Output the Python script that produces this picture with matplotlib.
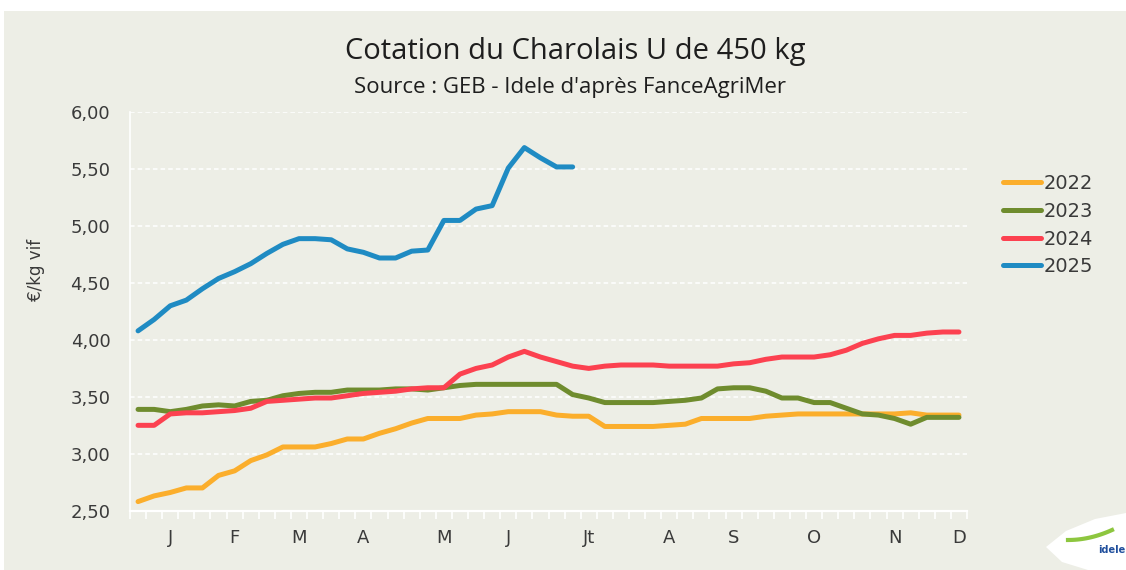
import numpy as np
from matplotlib import pyplot as plt
from matplotlib.patches import Rectangle, Polygon
from matplotlib.ticker import FuncFormatter

# weekly quotations, EUR/kg live weight
weeks = list(range(52))
y2022 = [2.58, 2.63, 2.66, 2.70, 2.70, 2.81, 2.85, 2.94, 2.99, 3.06,
         3.06, 3.06, 3.09, 3.13, 3.13, 3.18, 3.22, 3.27, 3.31, 3.31,
         3.31, 3.34, 3.35, 3.37, 3.37, 3.37, 3.34, 3.33, 3.33, 3.24,
         3.24, 3.24, 3.24, 3.25, 3.26, 3.31, 3.31, 3.31, 3.31, 3.33,
         3.34, 3.35, 3.35, 3.35, 3.35, 3.35, 3.35, 3.35, 3.36, 3.34,
         3.34, 3.34]
y2023 = [3.39, 3.39, 3.37, 3.39, 3.42, 3.43, 3.42, 3.46, 3.47, 3.51,
         3.53, 3.54, 3.54, 3.56, 3.56, 3.56, 3.57, 3.57, 3.56, 3.58,
         3.60, 3.61, 3.61, 3.61, 3.61, 3.61, 3.61, 3.52, 3.49, 3.45,
         3.45, 3.45, 3.45, 3.46, 3.47, 3.49, 3.57, 3.58, 3.58, 3.55,
         3.49, 3.49, 3.45, 3.45, 3.40, 3.35, 3.34, 3.31, 3.26, 3.32,
         3.32, 3.32]
y2024 = [3.25, 3.25, 3.35, 3.36, 3.36, 3.37, 3.38, 3.40, 3.46, 3.47,
         3.48, 3.49, 3.49, 3.51, 3.53, 3.54, 3.55, 3.57, 3.58, 3.58,
         3.70, 3.75, 3.78, 3.85, 3.90, 3.85, 3.81, 3.77, 3.75, 3.77,
         3.78, 3.78, 3.78, 3.77, 3.77, 3.77, 3.77, 3.79, 3.80, 3.83,
         3.85, 3.85, 3.85, 3.87, 3.91, 3.97, 4.01, 4.04, 4.04, 4.06,
         4.07, 4.07]
y2025 = [4.08, 4.18, 4.30, 4.35, 4.45, 4.54, 4.60, 4.67, 4.76, 4.84,
         4.89, 4.89, 4.88, 4.80, 4.77, 4.72, 4.72, 4.78, 4.79, 5.05,
         5.05, 5.15, 5.18, 5.51, 5.69, 5.60, 5.52, 5.52]

month_pos = [2, 6, 10, 14, 19, 23, 28, 33, 37, 42, 47, 51]
month_labels = ['J', 'F', 'M', 'A', 'M', 'J', 'Jt', 'A', 'S', 'O', 'N', 'D']

series = [('2022', y2022, '#FBAE2C'),
          ('2023', y2023, '#6F8C2E'),
          ('2024', y2024, '#FC4150'),
          ('2025', y2025, '#1F8BC3')]

bg = '#EDEEE6'
txt = '#3A3A3A'
W, H = 1126, 570

fig = plt.figure(figsize=(W / 100, H / 100), dpi=100)
fig.patch.set_facecolor('white')
fig.add_artist(Rectangle((4 / W, 0), 1, 1 - 11 / H, transform=fig.transFigure,
                         facecolor=bg, edgecolor='none', zorder=-10))

ax = fig.add_axes([130 / W, 1 - 510.7 / H, 837 / W, 398.4 / H])
ax.set_facecolor(bg)

for name, vals, col in series:
    ax.plot(weeks[:len(vals)], vals, color=col, lw=3.6, label=name,
            solid_capstyle='round', solid_joinstyle='round', zorder=3)

ax.set_xlim(-0.5, 51.5)
ax.set_ylim(2.5, 6.0)
ax.set_yticks(np.arange(2.5, 6.01, 0.5))
ax.yaxis.set_major_formatter(FuncFormatter(lambda v, _: f'{v:.2f}'.replace('.', ',')))
ax.set_xticks(month_pos)
ax.set_xticklabels(month_labels)
ax.set_xticks(np.arange(-0.5, 52, 1), minor=True)

ax.tick_params(axis='y', length=0, pad=14, labelsize=13, labelcolor=txt)
ax.tick_params(axis='x', which='major', length=0, pad=13, labelsize=13, labelcolor=txt)
ax.tick_params(axis='x', which='minor', length=6, width=1.2, color='white', direction='out')

ax.grid(axis='y', color='white', ls=(0, (3, 2)), lw=1.1, zorder=1)
for s in ['top', 'right']:
    ax.spines[s].set_visible(False)
ax.spines['left'].set_color('white')
ax.spines['left'].set_linewidth(1.2)
ax.spines['bottom'].set_color('white')
ax.spines['bottom'].set_linewidth(1.6)

ax.set_ylabel('€/kg vif', fontsize=12, color=txt)
ax.yaxis.set_label_coords(-0.102, 0.604)

fig.text(575 / W, 1 - 51 / H, 'Cotation du Charolais U de 450 kg', ha='center', va='center',
         fontsize=21, color='#1E1E1E', family=['Liberation Sans Narrow', 'Open Sans'])
fig.text(570 / W, 1 - 88 / H, "Source : GEB - Idele d'après FanceAgriMer", ha='center', va='center',
         fontsize=16, color='#1E1E1E', family=['Liberation Sans Narrow', 'Open Sans'])

leg = fig.legend(loc='upper left', bbox_to_anchor=(1003 / W, 1 - 174 / H), frameon=False,
                 fontsize=14, handlelength=1.95, handletextpad=0.15, labelspacing=0.45,
                 borderaxespad=0, borderpad=0)
for t in leg.get_texts():
    t.set_color(txt)

# logo mark, bottom right
pts = [(1126, 513), (1095, 519), (1066, 531), (1046, 547), (1062, 562), (1088, 570), (1126, 570)]
fig.add_artist(Polygon([(x / W, 1 - y / H) for x, y in pts], closed=True,
                       transform=fig.transFigure, facecolor='white', edgecolor='none'))
sx = np.linspace(1068, 1112, 20)
sy = 540 - 10 * ((sx - 1068) / 44) ** 2
fig.add_artist(plt.Line2D(sx / W, 1 - sy / H, color='#8DC63F', lw=3, transform=fig.transFigure))
fig.text(1098 / W, 1 - 550 / H, 'idele', fontsize=7, fontweight='bold', color='#1F4E9C',
         ha='left', va='center')

fig.savefig('out.png', dpi=100, facecolor=fig.get_facecolor())
